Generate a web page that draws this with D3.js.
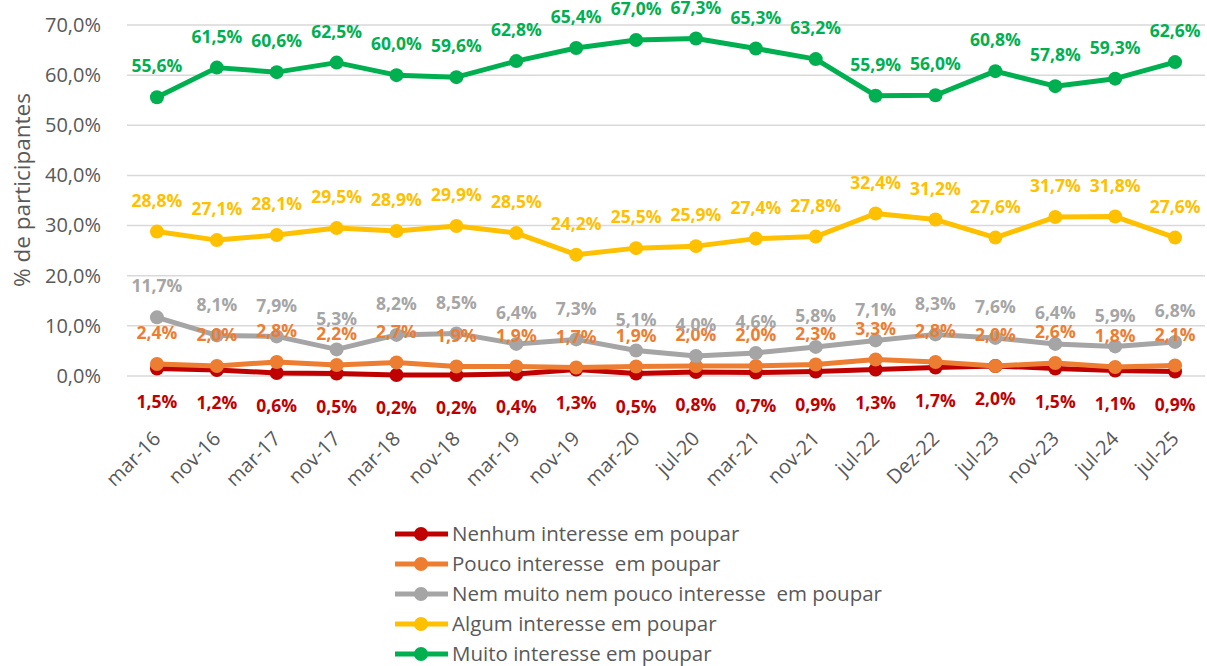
<!DOCTYPE html>
<html>
<head>
<meta charset="utf-8">
<script src="https://cdn.jsdelivr.net/npm/d3@7"></script>
<style>
body { margin: 0; background: #fff; }
svg { font-family: "Open Sans", "Noto Sans", sans-serif; }
text { white-space: pre; }
</style>
</head>
<body>
<svg width="1207" height="666"></svg>
<script>
// categorias (eixo x)
var periods = ["mar-16","nov-16","mar-17","nov-17","mar-18","nov-18","mar-19","nov-19","mar-20","jul-20","mar-21","nov-21","jul-22","Dez-22","jul-23","nov-23","jul-24","jul-25"];

// séries (%)
var nenhum = [1.5,1.2,0.6,0.5,0.2,0.2,0.4,1.3,0.5,0.8,0.7,0.9,1.3,1.7,2.0,1.5,1.1,0.9];
var pouco  = [2.4,2.0,2.8,2.2,2.7,1.9,1.9,1.7,1.9,2.0,2.0,2.3,3.3,2.8,2.0,2.6,1.8,2.1];
var nemMuito = [11.7,8.1,7.9,5.3,8.2,8.5,6.4,7.3,5.1,4.0,4.6,5.8,7.1,8.3,7.6,6.4,5.9,6.8];
var algum  = [28.8,27.1,28.1,29.5,28.9,29.9,28.5,24.2,25.5,25.9,27.4,27.8,32.4,31.2,27.6,31.7,31.8,27.6];
var muito  = [55.6,61.5,60.6,62.5,60.0,59.6,62.8,65.4,67.0,67.3,65.3,63.2,55.9,56.0,60.8,57.8,59.3,62.6];

var seriesNames = ["Nenhum interesse em poupar","Pouco interesse  em poupar","Nem muito nem pouco interesse  em poupar","Algum interesse em poupar","Muito interesse em poupar"];
var yTicks = [0,10,20,30,40,50,60,70];

var series = [
  {name: seriesNames[0], values: nenhum, color: "#C00000", below: true},
  {name: seriesNames[1], values: pouco, color: "#ED7D31"},
  {name: seriesNames[2], values: nemMuito, color: "#A5A5A5"},
  {name: seriesNames[3], values: algum, color: "#FFC000"},
  {name: seriesNames[4], values: muito, color: "#00B050"}
];

var pt = d3.formatLocale({decimal: ",", thousands: ".", grouping: [3], currency: ["", ""]});
var fmt = function(v) { return pt.format(".1f")(v) + "%"; };

var svg = d3.select("svg");
var plotLeft = 127, plotRight = 1205, plotTop = 25, plotBottom = 376;

var xs = d3.scalePoint().domain(periods).range([plotLeft, plotRight]).padding(0.5);
var ys = d3.scaleLinear().domain([0, 70]).range([plotBottom, plotTop]);

// grelha
svg.append("g")
  .selectAll("line")
  .data(yTicks)
  .enter()
  .append("line")
  .attr("x1", plotLeft).attr("x2", plotRight)
  .attr("y1", function(d) { return ys(d); })
  .attr("y2", function(d) { return ys(d); })
  .attr("stroke", "#D9D9D9")
  .attr("stroke-width", 1.5);

// eixo y
svg.append("g")
  .attr("transform", "translate(" + (plotLeft - 23) + ",0)")
  .call(d3.axisLeft(ys).tickValues(yTicks).tickSize(0).tickFormat(fmt))
  .call(function(g) { g.select(".domain").remove(); })
  .selectAll("text")
  .attr("fill", "#595959")
  .attr("font-size", "20px")
  .attr("font-family", "Open Sans, sans-serif");

// título eixo y
svg.append("text")
  .attr("transform", "translate(30,190) rotate(-90)")
  .attr("text-anchor", "middle")
  .attr("fill", "#595959")
  .attr("font-size", "22.5px")
  .text("% de participantes");

// eixo x
svg.append("g")
  .selectAll("text")
  .data(periods)
  .enter()
  .append("text")
  .attr("transform", function(d) { return "translate(" + (xs(d) + 5) + "," + (plotBottom + 64) + ") rotate(-45)"; })
  .attr("text-anchor", "end")
  .attr("fill", "#595959")
  .attr("font-size", "20px")
  .text(function(d) { return d; });

var line = d3.line()
  .x(function(d, i) { return xs(periods[i]); })
  .y(function(d) { return ys(d); });

// linhas e marcadores
series.forEach(function(s) {
  var g = svg.append("g");
  g.append("path")
    .datum(s.values)
    .attr("d", line)
    .attr("fill", "none")
    .attr("stroke", s.color)
    .attr("stroke-width", 5)
    .attr("stroke-linejoin", "round");
  g.selectAll("circle")
    .data(s.values)
    .enter()
    .append("circle")
    .attr("cx", function(d, i) { return xs(periods[i]); })
    .attr("cy", function(d) { return ys(d); })
    .attr("r", 7)
    .attr("fill", s.color);
});

// rótulos
series.forEach(function(s) {
  svg.append("g")
    .selectAll("text")
    .data(s.values)
    .enter()
    .append("text")
    .attr("x", function(d, i) { return xs(periods[i]); })
    .attr("y", function(d) { return ys(d) + (s.below ? 33 : -31); })
    .attr("dy", "0.35em")
    .attr("text-anchor", "middle")
    .attr("fill", s.color)
    .attr("font-size", "17.5px")
    .attr("font-weight", "bold")
    .text(function(d) { return fmt(d); });
});

// legenda
var legend = svg.append("g")
  .selectAll("g")
  .data(series)
  .enter()
  .append("g")
  .attr("transform", function(d, i) { return "translate(395," + (534 + i * 30) + ")"; });
legend.append("line")
  .attr("x1", 0).attr("x2", 53)
  .attr("stroke", function(d) { return d.color; })
  .attr("stroke-width", 5);
legend.append("circle")
  .attr("cx", 26).attr("r", 7)
  .attr("fill", function(d) { return d.color; });
legend.append("text")
  .attr("x", 57)
  .attr("dy", "0.35em")
  .attr("fill", "#595959")
  .attr("font-size", "20.5px")
  .text(function(d) { return d.name; });
</script>
</body>
</html>
